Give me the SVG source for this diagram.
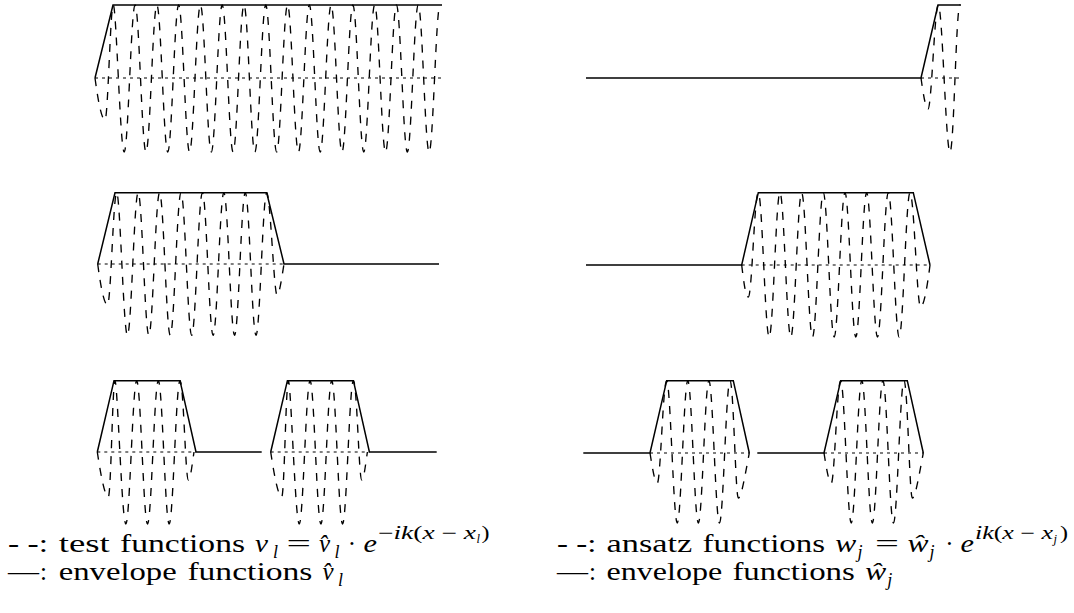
<svg xmlns="http://www.w3.org/2000/svg" width="1074" height="613" viewBox="0 0 1074 613">
<style>
.env{fill:none;stroke:#000;stroke-width:1.5;stroke-linejoin:miter}
.wave{fill:none;stroke:#000;stroke-width:1.35;stroke-dasharray:8 8}
.axis{fill:none;stroke:#000;stroke-width:1.2;stroke-dasharray:3 4}
.rm{font-family:"Liberation Serif","Times New Roman",serif;font-size:25px;fill:#000}
.it{font-family:"Liberation Serif","Times New Roman",serif;font-style:italic;font-size:25px;fill:#000}
.s1{font-size:18px}
.s2{font-size:12.5px}
</style>
<rect width="1074" height="613" fill="#fff"/>

<g id="panel-top-left">
<polyline class="env" points="95,78 113,5 442,5"/>
<line class="axis" x1="95" y1="78" x2="442" y2="78"/>
<path class="wave" d="M95 78 C98 100 101.5 120 105 120 C108 120 110.3 5 113.3 5 S120.23 152 124.19 152 S131.12 5 135.08 5 S142.01 152 145.97 152 S152.9 5 156.86 5 S163.79 152 167.75 152 S174.68 5 178.64 5 S185.57 152 189.53 152 S196.46 5 200.42 5 S207.35 152 211.31 152 S218.24 5 222.2 5 S229.13 152 233.09 152 S240.02 5 243.98 5 S250.91 152 254.87 152 S261.8 5 265.76 5 S272.69 152 276.65 152 S283.58 5 287.54 5 S294.47 152 298.43 152 S305.36 5 309.32 5 S316.25 152 320.21 152 S327.14 5 331.1 5 S338.03 152 341.99 152 S348.92 5 352.88 5 S359.81 152 363.77 152 S370.7 5 374.66 5 S381.59 152 385.55 152 S392.48 5 396.44 5 S403.37 152 407.33 152 S414.26 5 418.22 5 S425.15 152 429.11 152 S436.04 5 440 5"/>
</g>

<g id="panel-top-right">
<polyline class="env" points="586,78 921,78 938,5 961,5"/>
<line class="axis" x1="921" y1="78" x2="961" y2="78"/>
<path class="wave" d="M921 78 C923 92 925.5 109 928 109 C931.6 109 934.6 5 938.3 5 C942.4 5 945.8 152 950 152 C954 152 956 5 960 5"/>
</g>

<g id="panel-mid-left">
<polyline class="env" points="97.7,264 115,192.7 266.7,192.7 284,264 439,264"/>
<line class="axis" x1="97.7" y1="264" x2="284" y2="264"/>
<path class="wave" d="M97.7 264 C100.5 285 104 305 107.5 305 C110.8 305 113.3 192.7 116.7 192.7 S123.52 335.3 127.41 335.3 S134.24 192.7 138.13 192.7 S144.95 335.3 148.84 335.3 S155.67 192.7 159.56 192.7 S166.38 335.3 170.27 335.3 S177.1 192.7 180.99 192.7 S187.81 335.3 191.7 335.3 S198.53 192.7 202.42 192.7 S209.24 335.3 213.13 335.3 S219.96 192.7 223.85 192.7 S230.67 335.3 234.56 335.3 S241.39 192.7 245.28 192.7 S252.1 335.3 255.99 335.3 S262.81 192.7 266.7 192.7 C270.3 192.7 274 295 277 295 C279.5 295 282 276 284 264"/>
</g>

<g id="panel-mid-right">
<polyline class="env" points="586,265 741.7,265 758.3,192.7 913.3,192.7 930,265"/>
<line class="axis" x1="741.7" y1="265" x2="930" y2="265"/>
<path class="wave" d="M741.7 265 C743.5 280 745.5 297 748.3 297 C752 297 754.4 192.7 758.3 192.7 S765.2 337 769.14 337 S776.03 192.7 779.97 192.7 S786.87 337 790.81 337 S797.7 192.7 801.64 192.7 S808.54 337 812.48 337 S819.37 192.7 823.31 192.7 S830.21 337 834.15 337 S841.04 192.7 844.98 192.7 S851.88 337 855.82 337 S862.71 192.7 866.65 192.7 S873.55 337 877.49 337 S884.38 192.7 888.32 192.7 S895.22 337 899.16 337 S906.05 192.7 909.99 192.7 C914 192.7 917 307 920.5 307 C924 307 927.5 285 930 265"/>
</g>

<g id="panel-bottom-left">
<g id="bl-1">
<polyline class="env" points="97.3,452 114,380.7 180,380.7 196,452 261.7,452"/>
<line class="axis" x1="97.3" y1="452" x2="196" y2="452"/>
<path class="wave" d="M97.3 452 C100 470 104.5 497 108.3 497 C111 497 112.5 380.7 115 380.7 S121.89 524 125.83 524 S132.73 380.7 136.67 380.7 S143.56 524 147.5 524 S154.39 380.7 158.33 380.7 S165.23 524 169.17 524 S176.06 380.7 180 380.7 C183.5 380.7 185.5 480 188.3 480 C190.5 480 192 465 194 452"/>
</g>
<g id="bl-2" transform="translate(173.4,0)">
<polyline class="env" points="97.3,452 114,380.7 180,380.7 196,452 263.3,452"/>
<line class="axis" x1="97.3" y1="452" x2="196" y2="452"/>
<path class="wave" d="M97.3 452 C100 470 104.5 497 108.3 497 C111 497 112.5 380.7 115 380.7 S121.89 524 125.83 524 S132.73 380.7 136.67 380.7 S143.56 524 147.5 524 S154.39 380.7 158.33 380.7 S165.23 524 169.17 524 S176.06 380.7 180 380.7 C183.5 380.7 185.5 480 188.3 480 C190.5 480 192 465 194 452"/>
</g>
</g>

<g id="panel-bottom-right">
<g id="br-1">
<polyline class="env" points="583.3,453 650,453 666.7,380.7 733.3,380.7 749.3,453"/>
<line class="axis" x1="650" y1="453" x2="749.3" y2="453"/>
<path class="wave" d="M650 453 C652 465 654.5 483 657.3 483 C660.5 483 663 380.7 666.7 380.7 S673.42 523 677.25 523 S683.97 380.7 687.8 380.7 S694.52 523 698.35 523 S705.07 380.7 708.9 380.7 S715.62 523 719.45 523 S726.17 380.7 730 380.7 C733.5 380.7 735.5 498 738.3 498 C741.5 498 745 475 749.3 453"/>
</g>
<g id="br-2" transform="translate(174,0)">
<polyline class="env" points="583.3,453 650,453 666.7,380.7 733.3,380.7 749.3,453"/>
<line class="axis" x1="650" y1="453" x2="749.3" y2="453"/>
<path class="wave" d="M650 453 C652 465 654.5 483 657.3 483 C660.5 483 663 380.7 666.7 380.7 S673.42 523 677.25 523 S683.97 380.7 687.8 380.7 S694.52 523 698.35 523 S705.07 380.7 708.9 380.7 S715.62 523 719.45 523 S726.17 380.7 730 380.7 C733.5 380.7 735.5 498 738.3 498 C741.5 498 745 475 749.3 453"/>
</g>
</g>

<g id="legend-left">
<text class="rm" x="8" y="552" textLength="40" lengthAdjust="spacingAndGlyphs">- -:</text>
<text class="rm" x="58.7" y="552" textLength="51" lengthAdjust="spacingAndGlyphs">test</text>
<text class="rm" x="120" y="552" textLength="125" lengthAdjust="spacingAndGlyphs">functions</text>
<text class="it" x="255" y="552" textLength="13" lengthAdjust="spacingAndGlyphs">v</text>
<text class="it s1" x="273" y="558">l</text>
<text class="rm" x="286.5" y="552" textLength="24.5" lengthAdjust="spacingAndGlyphs">=</text>
<text class="it" x="319" y="552">v̂</text>
<text class="it s1" x="334.5" y="558">l</text>
<text class="rm" x="352" y="552" text-anchor="middle">·</text>
<text class="it" x="363.5" y="552" textLength="13.5" lengthAdjust="spacingAndGlyphs">e</text>
<text class="rm s1" x="378" y="539" textLength="98" lengthAdjust="spacingAndGlyphs">−<tspan class="it s1">ik</tspan>(<tspan class="it s1">x</tspan> − <tspan class="it s1">x</tspan></text>
<text class="it s2" x="476.5" y="543">l</text>
<text class="rm s1" x="481.5" y="539" textLength="8" lengthAdjust="spacingAndGlyphs">)</text>
<text class="rm" x="8" y="580" textLength="31" lengthAdjust="spacingAndGlyphs">—</text>
<text class="rm" x="40" y="580">:</text>
<text class="rm" x="58.7" y="580" textLength="118" lengthAdjust="spacingAndGlyphs">envelope</text>
<text class="rm" x="187.4" y="580" textLength="125" lengthAdjust="spacingAndGlyphs">functions</text>
<text class="it" x="322.5" y="580">v̂</text>
<text class="it s1" x="338" y="586">l</text>
</g>

<g id="legend-right">
<text class="rm" x="557" y="552" textLength="39.3" lengthAdjust="spacingAndGlyphs">- -:</text>
<text class="rm" x="606.6" y="552" textLength="85.7" lengthAdjust="spacingAndGlyphs">ansatz</text>
<text class="rm" x="702.6" y="552" textLength="122.5" lengthAdjust="spacingAndGlyphs">functions</text>
<text class="it" x="835.3" y="552" textLength="21" lengthAdjust="spacingAndGlyphs">w</text>
<text class="it s1" x="857.4" y="558">j</text>
<text class="rm" x="874.9" y="552" textLength="24" lengthAdjust="spacingAndGlyphs">=</text>
<text class="it" x="907.4" y="552" textLength="21" lengthAdjust="spacingAndGlyphs">ŵ</text>
<text class="it s1" x="929.5" y="558">j</text>
<text class="rm" x="949.5" y="552" text-anchor="middle">·</text>
<text class="it" x="960.6" y="552" textLength="13.5" lengthAdjust="spacingAndGlyphs">e</text>
<text class="rm s1" x="975" y="539" textLength="78" lengthAdjust="spacingAndGlyphs"><tspan class="it s1">ik</tspan>(<tspan class="it s1">x</tspan> − <tspan class="it s1">x</tspan></text>
<text class="it s2" x="1053.5" y="543">j</text>
<text class="rm s1" x="1060" y="539" textLength="8" lengthAdjust="spacingAndGlyphs">)</text>
<text class="rm" x="557" y="580" textLength="31" lengthAdjust="spacingAndGlyphs">—</text>
<text class="rm" x="589" y="580">:</text>
<text class="rm" x="606.6" y="580" textLength="115.5" lengthAdjust="spacingAndGlyphs">envelope</text>
<text class="rm" x="732.4" y="580" textLength="122.5" lengthAdjust="spacingAndGlyphs">functions</text>
<text class="it" x="865.2" y="580" textLength="21" lengthAdjust="spacingAndGlyphs">ŵ</text>
<text class="it s1" x="887.3" y="586">j</text>
</g>
</svg>
